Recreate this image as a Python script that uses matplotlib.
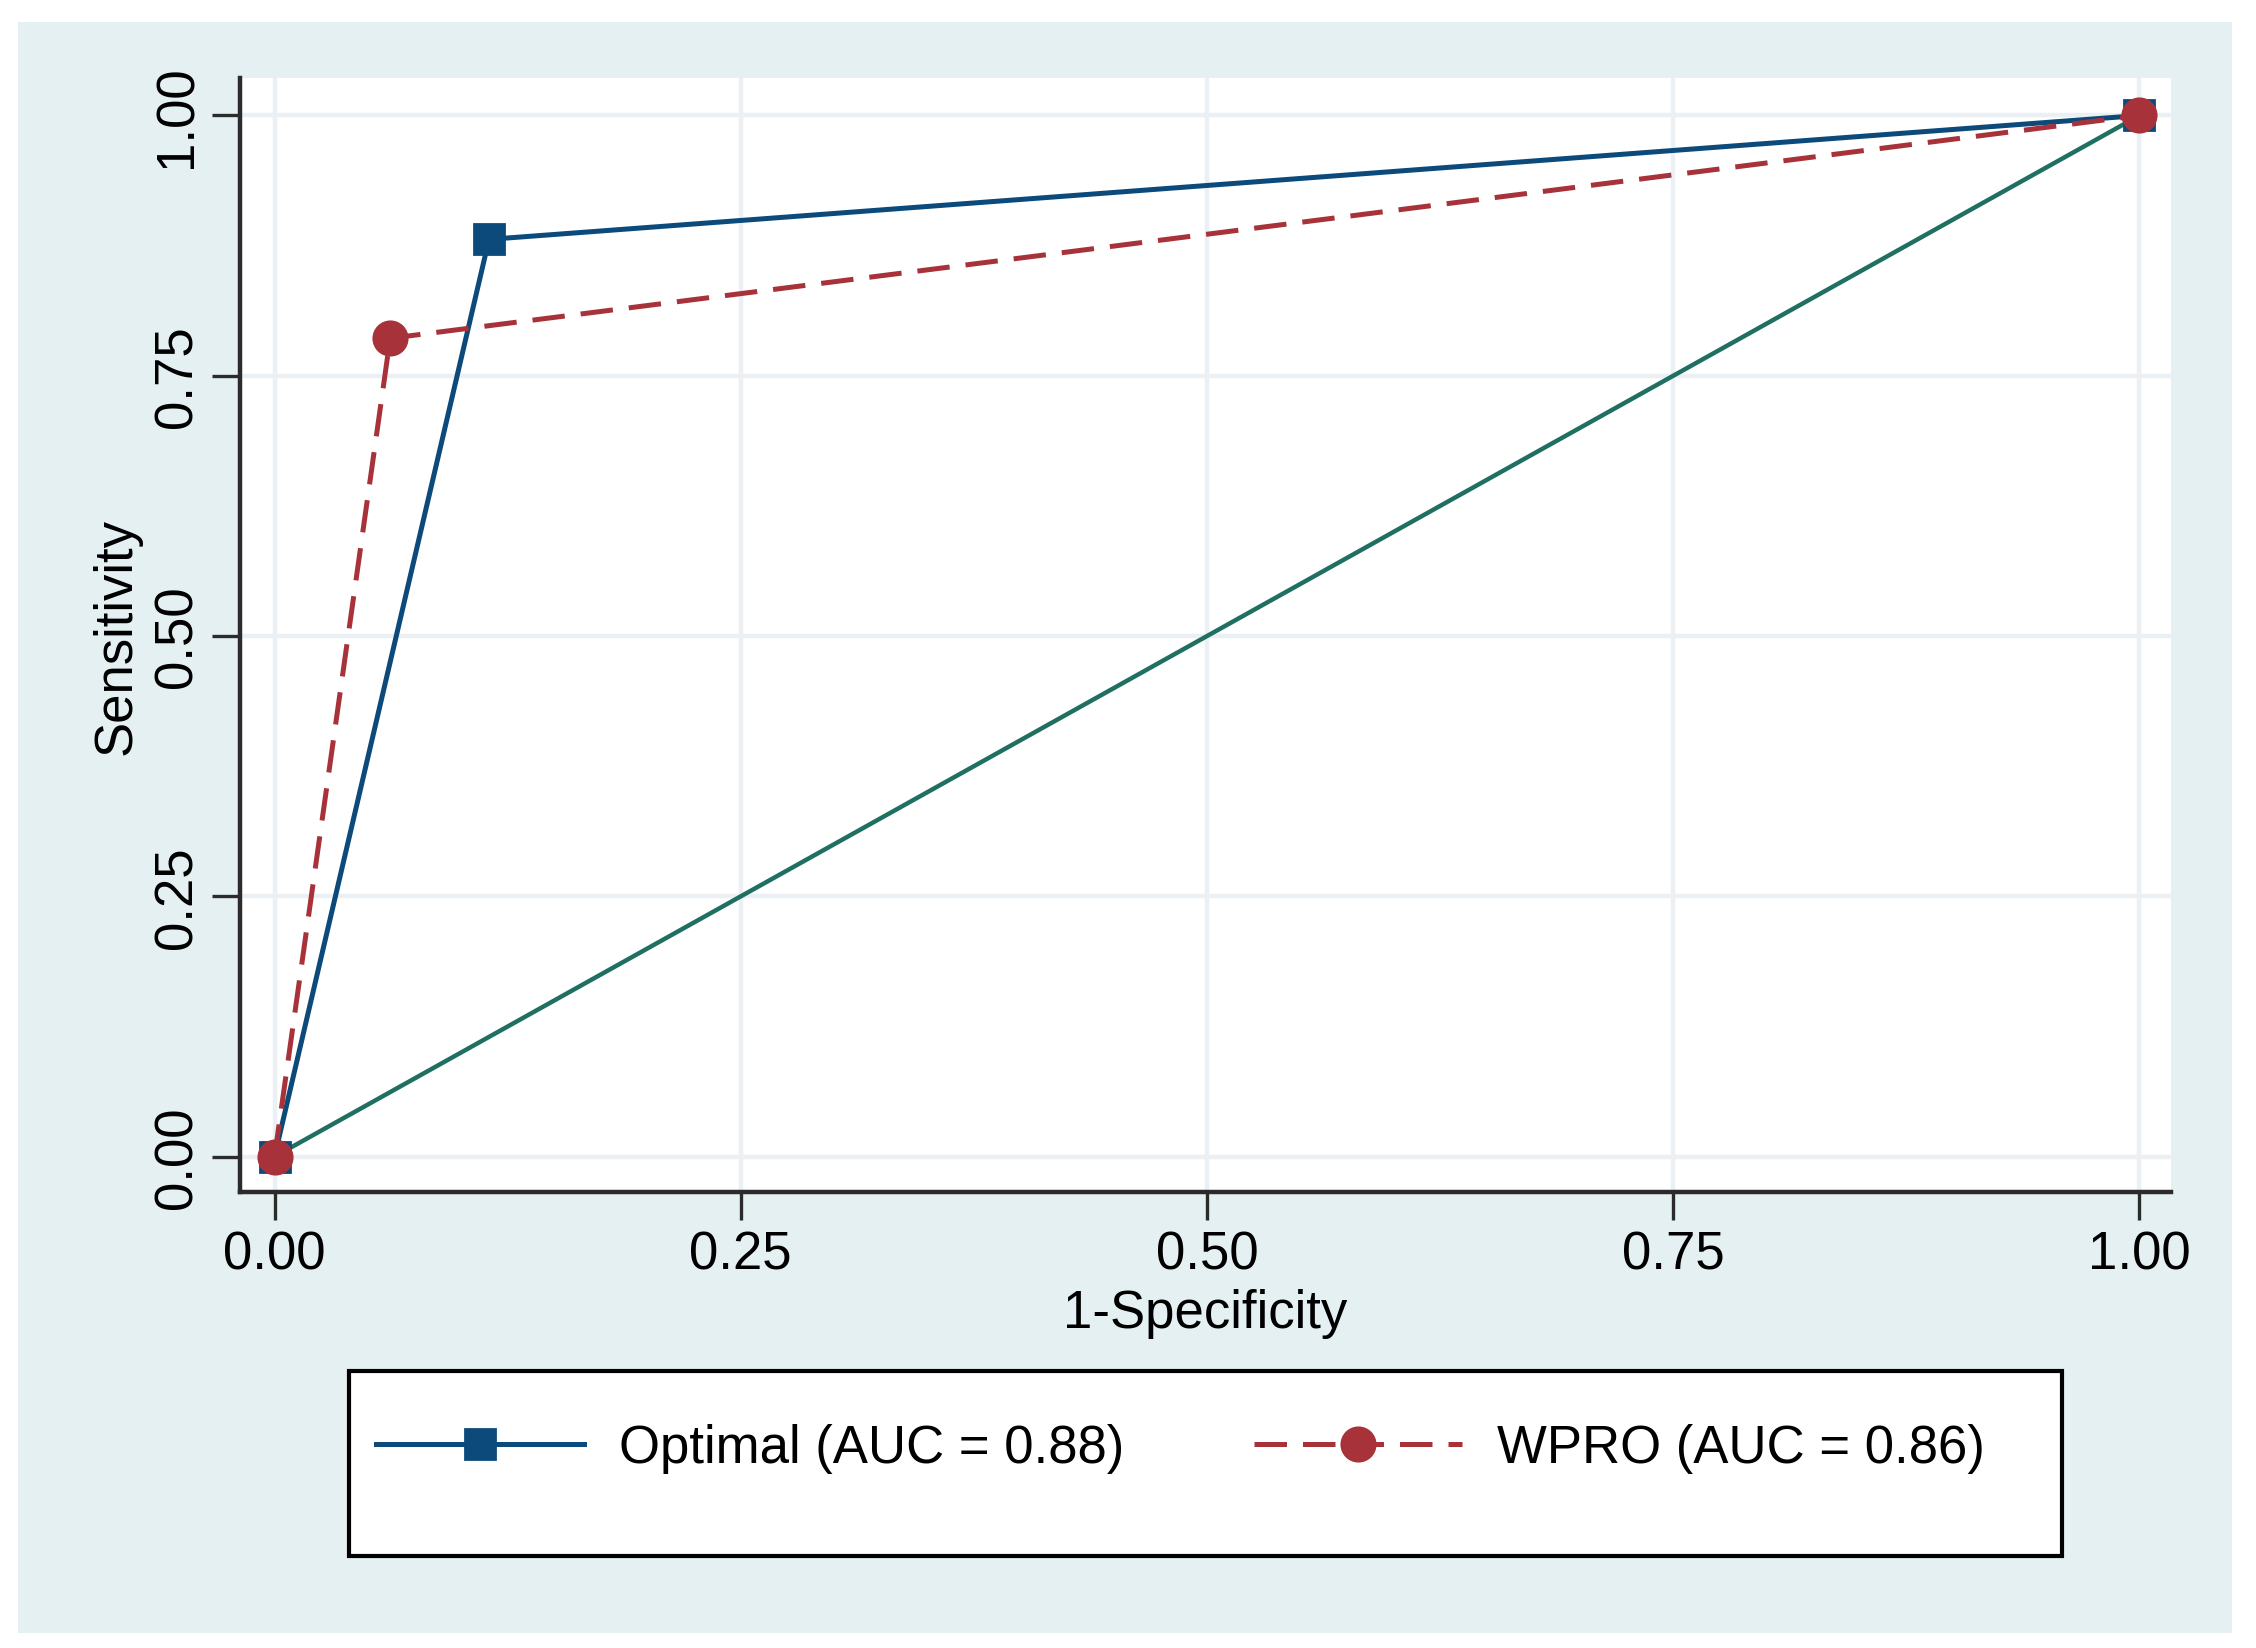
import matplotlib
matplotlib.use("Agg")
from matplotlib import pyplot as plt
from matplotlib.lines import Line2D
from matplotlib.patches import Rectangle

# ROC points
fpr_optimal = [0.0, 0.115, 1.0]
tpr_optimal = [0.0, 0.881, 1.0]
fpr_wpro = [0.0, 0.062, 1.0]
tpr_wpro = [0.0, 0.786, 1.0]
ref_line = [0.0, 1.0]

ticks = [0.0, 0.25, 0.5, 0.75, 1.0]
tick_labels = ["0.00", "0.25", "0.50", "0.75", "1.00"]
legend_labels = ["Optimal (AUC = 0.88)", "WPRO (AUC = 0.86)"]

navy = "#0B4A7A"
maroon = "#A8323A"
teal = "#1F6F62"
panel_bg = "#E5F0F2"
grid_col = "#EAF0F3"
axis_col = "#2B2B2B"

plt.rcParams['font.family'] = ['Liberation Sans', 'DejaVu Sans']

fig = plt.figure(figsize=(11.28, 8.245), dpi=200)
fig.patch.set_facecolor("white")
fig.patches.append(Rectangle((0.008, 0.0091), 0.9814, 0.9769, transform=fig.transFigure,
                             facecolor=panel_bg, edgecolor="none", zorder=0))

ax = fig.add_axes([0.1064, 0.2765, 0.8560, 0.6756])
ax.set_facecolor("white")
ax.set_zorder(1)

ax.set_xlim(-0.0185, 1.017)
ax.set_ylim(-0.034, 1.036)
ax.set_xticks(ticks)
ax.set_xticklabels(tick_labels)
ax.set_yticks(ticks)
ax.set_yticklabels(tick_labels)

ax.grid(True, color=grid_col, lw=1.6, zorder=0)
ax.set_axisbelow(True)

for s in ["top", "right"]:
    ax.spines[s].set_visible(False)
for s in ["left", "bottom"]:
    ax.spines[s].set_color(axis_col)
    ax.spines[s].set_linewidth(1.6)

ax.tick_params(axis="both", colors=axis_col, length=10, width=1.2, labelsize=19, labelcolor="black")
ax.tick_params(axis="x", pad=3.5)
ax.tick_params(axis="y", pad=3.5, labelrotation=90)
for lab in ax.get_yticklabels():
    lab.set_va("center")

ax.plot(ref_line, ref_line, color=teal, lw=1.6, zorder=2)
ax.plot(fpr_optimal, tpr_optimal, color=navy, lw=1.8, marker="s", ms=10.5,
        zorder=3, clip_on=False)
ax.plot(fpr_wpro, tpr_wpro, color=maroon, lw=1.8, dashes=(6.5, 3.2), marker="o", ms=12,
        zorder=4, clip_on=False)

ax.set_xlabel("1-Specificity", fontsize=19, labelpad=3)
ax.set_ylabel("Sensitivity", fontsize=19, labelpad=4)

# legend box
fig.patches.append(Rectangle((0.1545, 0.0558), 0.7595, 0.1122, transform=fig.transFigure,
                             facecolor="white", edgecolor="black", lw=1.5, zorder=1))
handles = [
    Line2D([], [], color=navy, lw=1.8, marker="s", ms=10.5),
    Line2D([], [], color=maroon, lw=1.8, dashes=(6.5, 3.2), marker="o", ms=12),
]
fig.legend(handles, legend_labels, loc="center left", bbox_to_anchor=(0.1667, 0.1213),
           ncol=2, frameon=False, fontsize=19, handlelength=3.94, handletextpad=0.66,
           columnspacing=2.46, borderpad=0, borderaxespad=0)

fig.savefig("out.png", dpi=200)
